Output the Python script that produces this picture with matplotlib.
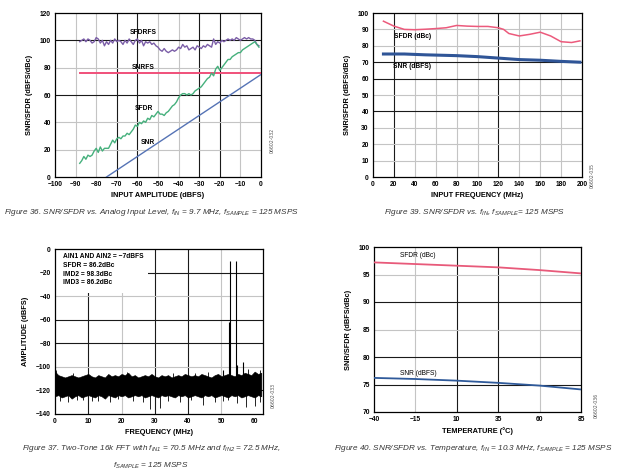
import numpy as np
import matplotlib
matplotlib.use("Agg")
import matplotlib.pyplot as plt
from matplotlib.patches import Rectangle

# ---- data ----
# fig 36: snr/sfdr vs input level
amp_db = list(range(-88, 0))
sfdrfs = [99, 100, 101, 99, 101, 100, 98, 99, 102, 101, 98, 100, 96, 99, 97, 100, 98, 101, 99, 100,
          99, 97, 100, 98, 101, 99, 97, 100, 101, 98, 100, 96, 99, 98, 99, 97, 98, 96, 95, 93,
          92, 94, 92, 91, 92, 93, 92, 93, 95, 94, 97, 95, 96, 93, 94, 95, 93, 96, 95, 94,
          96, 95, 97, 96, 95, 101, 97, 99, 98, 100, 99, 100, 101, 100, 101, 100, 102, 101, 100, 101,
          102, 101, 102, 101, 101, 100, 97, 96]
sfdr_lvl = [10, 12, 15, 13, 16, 15, 16, 19, 21, 18, 22, 19, 21, 21, 21, 24, 27, 25, 28, 29,
            28, 30, 30, 32, 31, 33, 35, 38, 37, 40, 39, 41, 40, 43, 42, 45, 44, 46, 48, 46,
            46, 45, 47, 48, 50, 52, 53, 55, 58, 60, 61, 61, 60, 61, 60, 61, 63, 64, 65, 66,
            68, 70, 72, 73, 76, 74, 79, 81, 78, 80, 82, 84, 86, 86, 88, 89, 90, 91, 91, 93,
            94, 95, 96, 97, 98, 99, 97, 95]
snrfs_x = [-88, -60, -30, 0]
snrfs = [76, 76, 76, 76]
snr_x = [-75, -60, -45, -30, -15, 0]
snr_lvl = [0, 15, 30, 45, 60, 75]

# fig 39: snr/sfdr vs input frequency
fin = [10, 20, 30, 40, 50, 60, 70, 80, 90, 100, 110, 120, 125, 130, 140, 150, 160, 170, 180, 190, 198]
sfdr_f = [95, 92, 90, 89.8, 90.1, 90.5, 91, 92.4, 92, 91.8, 91.8, 91, 90, 87.5, 86, 87, 88.3, 86, 82.5, 82, 83]
snr_fx = [10, 30, 50, 80, 100, 120, 140, 160, 180, 198]
snr_f = [75, 75, 74.5, 74, 73.4, 72.5, 71.6, 71.2, 70.5, 70]

# fig 37: two tone fft (noise floor envelope, 1 MHz steps)
nf_top = [-104, -107, -108, -109, -108, -107, -108, -109, -108, -107, -106, -108, -109, -107, -108, -109,
          -106, -108, -107, -108, -106, -107, -105, -108, -107, -109, -108, -107, -108, -106, -108, -109,
          -107, -108, -107, -109, -108, -107, -108, -106, -107, -108, -107, -108, -106, -107, -108, -109,
          -107, -106, -108, -107, -106, -107, -108, -106, -107, -105, -106, -107, -104, -106, -105]
nf_bot = [-125, -124, -126, -125, -124, -127, -125, -124, -126, -125, -124, -125, -126, -124, -125, -127,
          -124, -125, -126, -124, -125, -124, -126, -125, -124, -125, -124, -126, -125, -124, -125, -126,
          -124, -125, -124, -125, -126, -124, -125, -124, -126, -125, -124, -125, -126, -124, -125, -124,
          -126, -125, -124, -125, -126, -124, -125, -124, -126, -125, -124, -125, -126, -124, -125]
dn_f = [1.5, 4, 6.5, 8.5, 11, 13, 16.5, 19, 23.5, 26.5, 28.5, 31.5, 34, 37.5, 41, 44.5, 48, 50.5, 52, 54.7, 57.5, 60, 61.5]
dn_a = [-129, -130, -128, -128, -129, -129, -130, -127, -129, -130, -136, -135, -129, -130, -128, -132, -130, -129, -128, -131, -134, -133, -130]
up_f = [0.3, 5.5, 21.5, 35.5, 42, 46, 58, 61.6]
up_a = [-103, -105, -104, -105, -105, -104, -102, -103]
tone_f = [52.5, 54.5, 52.3, 56.6, 54.7, 50.5]
tone_a = [-10, -10, -62, -96, -98, -103]
fft_note = "AIN1 AND AIN2 = \u22127dBFS\nSFDR = 86.2dBc\nIMD2 = 98.3dBc\nIMD3 = 86.2dBc"

# fig 40: snr/sfdr vs temperature
temp = [-40, -15, 10, 35, 60, 85]
sfdr_t = [97.2, 96.9, 96.6, 96.3, 95.8, 95.2]
snr_t = [76.2, 76.0, 75.7, 75.3, 74.8, 74.1]

dark = "#1a1a1a"
light = "#c4c4c4"
bold = dict(fontsize=4.8, fontweight="bold", family=["Liberation Sans", "DejaVu Sans"])
cap = dict(fontsize=5.9, style="italic", color="#333333", ha="center",
           family=["Liberation Sans", "DejaVu Sans"])
plt.rcParams["mathtext.fontset"] = "custom"
plt.rcParams["mathtext.rm"] = "Liberation Sans:italic"
plt.rcParams["mathtext.it"] = "Liberation Sans:italic"

W, H = 620, 476
fig = plt.figure(figsize=(6.2, 4.76), dpi=100)


def box(x0, x1, y0, y1):
    return fig.add_axes([x0 / W, 1 - y1 / H, (x1 - x0) / W, (y1 - y0) / H])


def setup(ax, xt, yt, xl, yl, vd, hd):
    ax.set_xticks(xt)
    ax.set_yticks(yt)
    ax.set_xticklabels([str(v).replace("-", "\u2212") for v in xt], **bold)
    ax.set_yticklabels([str(v).replace("-", "\u2212") for v in yt], **bold)
    ax.tick_params(length=0, pad=3)
    ax.set_xlabel(xl, labelpad=3, **dict(bold, fontsize=5.3))
    ax.set_ylabel(yl, labelpad=5, **dict(bold, fontsize=5.3))
    for v in xt[1:-1]:
        ax.axvline(v, color=dark if v in vd else light, lw=0.8, zorder=1)
    for v in yt[1:-1]:
        ax.axhline(v, color=dark if v in hd else light, lw=0.8, zorder=1)
    for s in ax.spines.values():
        s.set_linewidth(0.9)


# ---- figure 36 ----
ax1 = box(55, 261, 13, 177)
ax1.plot(amp_db, sfdrfs, color="#7b5ea7", lw=1.0, zorder=3)
ax1.plot(snrfs_x, snrfs, color="#f0507a", lw=1.4, zorder=3)
ax1.plot(amp_db, sfdr_lvl, color="#45b07c", lw=1.0, zorder=3)
ax1.plot(snr_x, snr_lvl, color="#5573b5", lw=1.0, zorder=3)
ax1.set_xlim(-100, 0)
ax1.set_ylim(0, 120)
setup(ax1, list(range(-100, 1, 10)), list(range(0, 121, 20)),
      "INPUT AMPLITUDE (dBFS)", "SNR/SFDR (dBFS/dBc)", [-70, -60, -30, -20], [100, 60])
ax1.text(-57, 105, "SFDRFS", ha="center", **bold)
ax1.text(-57, 79, "SNRFS", ha="center", **bold)
ax1.text(-57, 49, "SFDR", ha="center", **bold)
ax1.text(-55, 24, "SNR", ha="center", **bold)

# ---- figure 39 ----
ax2 = box(373, 582, 13, 177)
ax2.plot(fin, sfdr_f, color="#ec5a7c", lw=1.1, zorder=3)
ax2.plot(snr_fx, snr_f, color="#2f5597", lw=2.2, zorder=3)
ax2.set_xlim(0, 200)
ax2.set_ylim(0, 100)
setup(ax2, list(range(0, 201, 20)), list(range(0, 101, 10)),
      "INPUT FREQUENCY (MHz)", "SNR/SFDR (dBFS/dBc)", [20, 120], [70, 60, 40])
ax2.text(20, 85, "SFDR (dBc)", **bold)
ax2.text(19, 66.5, "SNR (dBFS)", **bold)

# ---- figure 37 ----
ax3 = box(55, 263, 249, 414)
fx = np.arange(len(nf_top))
ax3.fill_between(fx, nf_bot, nf_top, color="black", lw=0.4, zorder=3)
ax3.vlines(dn_f, -118, dn_a, color="black", lw=0.6, zorder=3)
ax3.vlines(up_f, -112, up_a, color="black", lw=0.6, zorder=3)
ax3.vlines(tone_f, -108, tone_a, color="black", lw=0.8, zorder=3)
ax3.set_xlim(0, 62.5)
ax3.set_ylim(-140, 0)
setup(ax3, list(range(0, 61, 10)), list(range(-140, 1, 20)),
      "FREQUENCY (MHz)", "AMPLITUDE (dBFS)", [10, 30, 40], [-20, -60, -80, -120])
ax3.add_patch(Rectangle((0.3, -37), 27.7, 36.5, facecolor="white", edgecolor="none", zorder=2))
ax3.text(2.4, -3.5, fft_note, va="top", linespacing=1.35, zorder=4, **bold)

# ---- figure 40 ----
ax4 = box(374, 581, 247, 412)
ax4.plot(temp, sfdr_t, color="#e85a7a", lw=1.3, zorder=3)
ax4.plot(temp, snr_t, color="#2f5a9a", lw=1.3, zorder=3)
ax4.set_xlim(-40, 85)
ax4.set_ylim(70, 100)
setup(ax4, temp, list(range(70, 101, 5)),
      "TEMPERATURE (\u00b0C)", "SNR/SFDR (dBFS/dBc)", [10, 35], [90, 80, 75])
ax4.text(-24, 98.2, "SFDR (dBc)", **dict(bold, fontweight="normal"))
ax4.text(-24, 76.8, "SNR (dBFS)", **dict(bold, fontweight="normal"))

# small figure ids
for x, y, s in [(272, 140, "06602-032"), (592, 175, "06602-035"), (273, 395, "06602-033"), (596, 405, "06602-036")]:
    fig.text(x / W, 1 - y / H, s, rotation=90, fontsize=3.3, color="#555555", ha="center", va="center")

# captions
fig.text(151 / W, 1 - 212 / H,
         r"Figure 36. SNR/SFDR vs. Analog Input Level, $f_{IN}$ = 9.7 MHz, $f_{SAMPLE}$ = 125 MSPS", va="center", **cap)
fig.text(475 / W, 1 - 212 / H,
         r"Figure 39. SNR/SFDR vs. $f_{IN}$, $f_{SAMPLE}$= 125 MSPS", va="center", **cap)
fig.text(151 / W, 1 - 448 / H,
         r"Figure 37. Two-Tone 16k FFT with $f_{IN1}$ = 70.5 MHz and $f_{IN2}$ = 72.5 MHz,", va="center", **cap)
fig.text(151 / W, 1 - 466 / H, r"$f_{SAMPLE}$ = 125 MSPS", va="center", **cap)
fig.text(473 / W, 1 - 448 / H,
         r"Figure 40. SNR/SFDR vs. Temperature, $f_{IN}$ = 10.3 MHz, $f_{SAMPLE}$ = 125 MSPS", va="center", **cap)

fig.savefig("out.png", dpi=100)
